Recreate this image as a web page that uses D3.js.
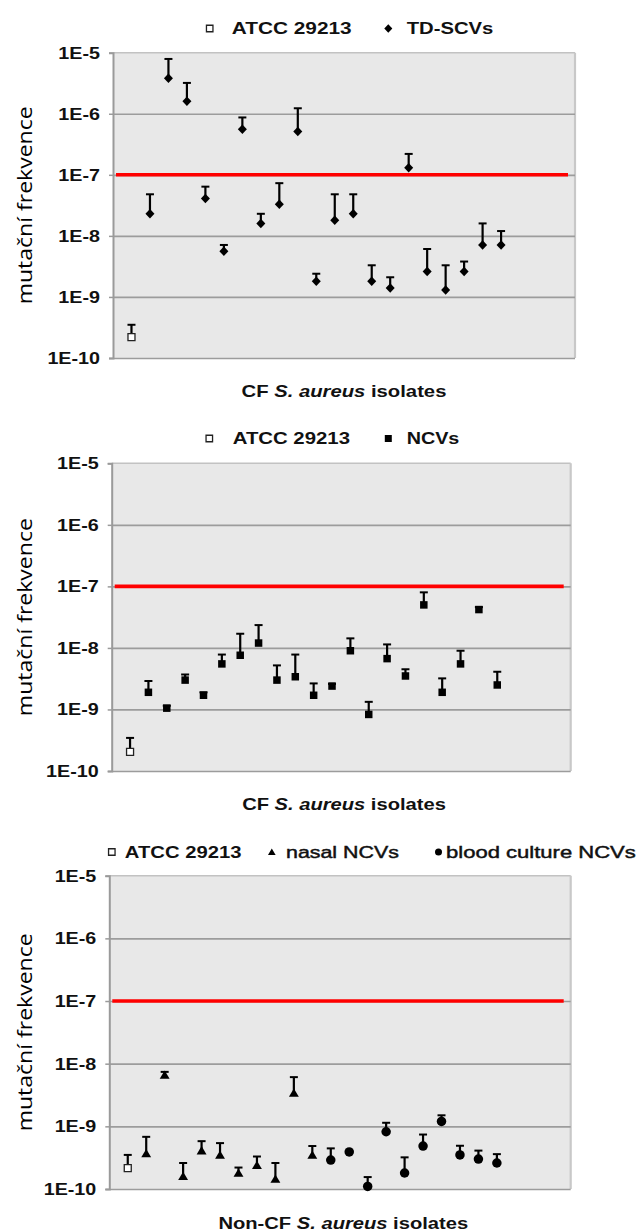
<!DOCTYPE html>
<html><head><meta charset="utf-8">
<script src="https://cdn.jsdelivr.net/npm/d3@7"></script>
<style>body{margin:0;background:#fff}svg{display:block}</style>
</head><body>
<svg id="c" width="637" height="1232"></svg>
<script>
// ---------- data ----------
const tickValues = [1e-5, 1e-6, 1e-7, 1e-8, 1e-9, 1e-10];
const tickLabels = ["1E-5", "1E-6", "1E-7", "1E-8", "1E-9", "1E-10"];
const threshold = 1e-7;
const yTitle = "mutační frekvence";

// panel 1: CF isolates, TD-SCVs
const p1AtccValue = [2.2e-10];
const p1AtccUpper = [3.5e-10];
const tdScvValue = [2.3e-8, 3.8e-6, 1.6e-6, 4.1e-8, 5.6e-9, 5.6e-7, 1.6e-8, 3.3e-8, 5.1e-7, 1.8e-9,
                    1.8e-8, 2.3e-8, 1.8e-9, 1.4e-9, 1.3e-7, 2.6e-9, 1.3e-9, 2.6e-9, 7.1e-9, 7.1e-9];
const tdScvUpper = [4.8e-8, 7.9e-6, 3.2e-6, 6.4e-8, 7.1e-9, 8.7e-7, 2.3e-8, 7.3e-8, 1.23e-6, 2.4e-9,
                    4.8e-8, 4.8e-8, 3.3e-9, 2.1e-9, 2.2e-7, 6.1e-9, 3.3e-9, 3.8e-9, 1.6e-8, 1.2e-8];

// panel 2: CF isolates, NCVs
const p2AtccValue = [2.05e-10];
const p2AtccUpper = [3.45e-10];
const ncvValue = [1.9e-9, 1.05e-9, 3.0e-9, 1.7e-9, 5.5e-9, 7.6e-9, 1.2e-8, 3.0e-9, 3.4e-9, 1.7e-9,
                  2.4e-9, 9.0e-9, 8.3e-10, 6.7e-9, 3.5e-9, 5.0e-8, 1.9e-9, 5.5e-9, 4.2e-8, 2.5e-9];
const ncvUpper = [2.9e-9, 1.15e-9, 3.7e-9, 1.9e-9, 7.8e-9, 1.7e-8, 2.35e-8, 5.2e-9, 7.8e-9, 2.65e-9,
                  2.6e-9, 1.43e-8, 1.33e-9, 1.14e-8, 4.5e-9, 8.0e-8, 3.2e-9, 9.0e-9, 4.6e-8, 4.1e-9];

// panel 3: non-CF isolates
const p3AtccValue = [2.15e-10];
const p3AtccUpper = [3.5e-10];
const nasalValue = [3.7e-10, 6.6e-9, 1.6e-10, 4.1e-10, 3.5e-10, 1.8e-10, 2.4e-10, 1.45e-10, 3.4e-9, 3.5e-10];
const nasalUpper = [6.8e-10, 7.4e-9, 2.6e-10, 5.8e-10, 5.4e-10, 2.2e-10, 3.3e-10, 2.6e-10, 6.1e-9, 4.85e-10];
const bloodValue = [2.9e-10, 3.9e-10, 1.1e-10, 8.2e-10, 1.8e-10, 4.85e-10, 1.2e-9, 3.5e-10, 3.0e-10, 2.6e-10];
const bloodUpper = [4.45e-10, 4.0e-10, 1.55e-10, 1.14e-9, 3.2e-10, 7.4e-10, 1.5e-9, 4.9e-10, 4.1e-10, 3.6e-10];

const legend1 = ["ATCC 29213", "TD-SCVs"];
const legend2 = ["ATCC 29213", "NCVs"];
const legend3 = ["ATCC 29213", "nasal NCVs", "blood culture NCVs"];

// ---------- layout ----------
const panels = [
  { top: 52.7, bottom: 358, left: 113, right: 575, titleY: 397, titleX: 344, titleW: 205,
    title: ["CF ", "S. aureus", " isolates"],
    series: [
      { shape: "open", values: p1AtccValue, upper: p1AtccUpper },
      { shape: "diamond", values: tdScvValue, upper: tdScvUpper }],
    legend: [
      { shape: "open", label: legend1[0], mx: 209.7, tx: 231.7, tw: 120, bold: true },
      { shape: "diamond", label: legend1[1], mx: 388.3, tx: 406.7, tw: 86.7, bold: true }],
    legendY: 28.5 },
  { top: 463.3, bottom: 771, left: 111.7, right: 570.7, titleY: 810, titleX: 344, titleW: 204,
    title: ["CF ", "S. aureus", " isolates"],
    series: [
      { shape: "open", values: p2AtccValue, upper: p2AtccUpper },
      { shape: "square", values: ncvValue, upper: ncvUpper }],
    legend: [
      { shape: "open", label: legend2[0], mx: 209.3, tx: 232.7, tw: 117.3, bold: true },
      { shape: "square", label: legend2[1], mx: 388.3, tx: 406.7, tw: 52.7, bold: true }],
    legendY: 438.5 },
  { top: 875.7, bottom: 1189, left: 109.3, right: 570.7, titleY: 1228.5, titleX: 343.3, titleW: 250,
    title: ["Non-CF ", "S. aureus", " isolates"],
    series: [
      { shape: "open", values: p3AtccValue, upper: p3AtccUpper },
      { shape: "triangle", values: nasalValue, upper: nasalUpper },
      { shape: "circle", values: bloodValue, upper: bloodUpper }],
    legend: [
      { shape: "open", label: legend3[0], mx: 111.8, tx: 124.8, tw: 116.7, bold: true },
      { shape: "triangle", label: legend3[1], mx: 271.8, tx: 286, tw: 113, bold: false },
      { shape: "circle", label: legend3[2], mx: 438.5, tx: 446, tw: 190, bold: false }],
    legendY: 852 }
];

const svg = d3.select("#c");
svg.append("rect").attr("width", 637).attr("height", 1232).attr("fill", "#fff");

function markerPath(shape, s) {
  const h = s / 2;
  switch (shape) {
    case "diamond": return `M0,${-h}L${h * 0.95},0L0,${h}L${-h * 0.95},0Z`;
    case "triangle": return `M0,${-h}L${h * 1.1},${h * 0.85}L${-h * 1.1},${h * 0.85}Z`;
    case "circle": return d3.symbol(d3.symbolCircle, Math.PI * h * h)();
    default: return `M${-h},${-h}H${h}V${h}H${-h}Z`;
  }
}
function drawMarker(g, shape, x, y, s) {
  const p = g.append("path").attr("d", markerPath(shape, s)).attr("transform", `translate(${x},${y})`);
  if (shape === "open") p.attr("fill", "#fff").attr("stroke", "#222").attr("stroke-width", 1.3);
  else p.attr("fill", "#000");
  return p;
}
function fit(textSel, x, y, width) {
  const w = textSel.node().getBBox().width;
  textSel.attr("transform", `translate(${x},${y}) scale(${width / w},1)`);
}

const FONT = "'Liberation Sans', Arial, sans-serif";
const markerSize = { open: 7, diamond: 9.5, square: 7.5, triangle: 9, circle: 9.5 };

panels.forEach(P => {
  const g = svg.append("g");
  const y = d3.scaleLog().domain([1e-10, 1e-5]).range([P.bottom, P.top]);
  const x = d3.scaleLinear().domain([0, 25]).range([P.left, P.right]);
  const w = P.right - P.left;

  // background
  g.append("rect").attr("x", P.left).attr("y", P.top).attr("width", w).attr("height", P.bottom - P.top)
    .attr("fill", "#e8e8e8");
  // borders
  g.append("line").attr("x1", P.left).attr("x2", P.right).attr("y1", P.top).attr("y2", P.top)
    .attr("stroke", "#c2c2c2").attr("stroke-width", 1.6);
  g.append("line").attr("x1", P.right).attr("x2", P.right).attr("y1", P.top).attr("y2", P.bottom)
    .attr("stroke", "#c8c8c8").attr("stroke-width", 2.2);

  // grid
  const grid = g.append("g").attr("transform", `translate(${P.left},0)`)
    .call(d3.axisLeft(y).tickValues(tickValues.slice(1)).tickSize(-w).tickFormat(""));
  grid.select(".domain").remove();
  grid.selectAll(".tick line").attr("stroke", "#9c9c9c").attr("stroke-width", 1.7);

  // axis
  const ax = g.append("g").attr("transform", `translate(${P.left},0)`)
    .call(d3.axisLeft(y).tickValues(tickValues).tickSize(4).tickPadding(9)
      .tickFormat((d, i) => tickLabels[i]));
  ax.select(".domain").attr("stroke", "#9a9a9a").attr("stroke-width", 2);
  ax.selectAll(".tick line").attr("stroke", "#9a9a9a").attr("stroke-width", 1.5);
  ax.selectAll(".tick text").attr("font-family", FONT).attr("font-weight", "bold")
    .attr("font-size", 17).attr("fill", "#111")
    .each(function () {
      const t = d3.select(this);
      const xo = +t.attr("x");
      t.attr("x", 0).attr("transform", `translate(${xo},0) scale(1.16,1)`);
    });

  // threshold
  g.append("line").attr("x1", P.left + 3).attr("x2", P.right - 7)
    .attr("y1", y(threshold)).attr("y2", y(threshold))
    .attr("stroke", "#ff0000").attr("stroke-width", 3.6);

  // points
  let idx = 1;
  P.series.forEach(S => {
    S.values.forEach((v, i) => {
      const cx = x(idx), cy = y(v), uy = y(S.upper[i]);
      g.append("line").attr("x1", cx).attr("x2", cx).attr("y1", cy).attr("y2", uy)
        .attr("stroke", "#000").attr("stroke-width", 2.2);
      g.append("line").attr("x1", cx - 4).attr("x2", cx + 4).attr("y1", uy).attr("y2", uy)
        .attr("stroke", "#000").attr("stroke-width", 2);
      drawMarker(g, S.shape, cx, cy, markerSize[S.shape]);
      idx++;
    });
  });

  // y title
  g.append("text").attr("transform", `translate(31.5,${(P.top + P.bottom) / 2}) rotate(-90)`)
    .attr("text-anchor", "middle").attr("font-family", "'Open Sans', 'Noto Sans', sans-serif")
    .attr("font-size", 20).attr("fill", "#000")
    .attr("textLength", 198).attr("lengthAdjust", "spacingAndGlyphs")
    .text(yTitle);

  // x title
  const xt = g.append("text").attr("text-anchor", "middle").attr("font-family", FONT)
    .attr("font-weight", "bold").attr("font-size", 17).attr("fill", "#111");
  P.title.forEach((part, i) => {
    xt.append("tspan").attr("font-style", i === 1 ? "italic" : "normal").text(part);
  });
  fit(xt, P.titleX, P.titleY, P.titleW);

  // legend
  P.legend.forEach(L => {
    const ls = L.shape === "open" ? 6.5 : (L.shape === "diamond" ? 8.5 : 7);
    drawMarker(g, L.shape, L.mx, P.legendY, ls);
    const t = g.append("text").attr("font-family", FONT).attr("font-size", 17)
      .attr("font-weight", L.bold ? "bold" : "normal").attr("fill", "#111")
      .attr("dy", "0.35em").text(L.label);
    if (!L.bold) t.attr("stroke", "#111").attr("stroke-width", 0.45);
    fit(t, L.tx, P.legendY, L.tw);
  });
});
</script>
</body></html>
